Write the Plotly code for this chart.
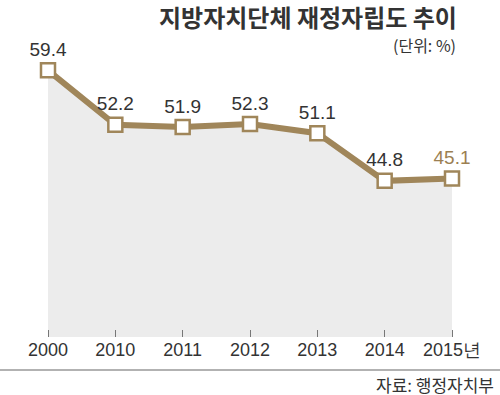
import plotly.graph_objects as go

years = ["2000", "2010", "2011", "2012", "2013", "2014", "2015년"]
values = [59.4, 52.2, 51.9, 52.3, 51.1, 44.8, 45.1]
labels = ["59.4", "52.2", "51.9", "52.3", "51.1", "44.8", "45.1"]
label_colors = ["#333333"] * 6 + ["#9c7f52"]

xs = list(range(len(years)))
W, H = 500, 395
TOP, BOTTOM = 40, 337  # plot area in px
PH = BOTTOM - TOP

def py(p):
    return (BOTTOM - p) / PH

LINE = "#a0865a"

fig = go.Figure()
fig.add_trace(go.Scatter(x=xs, y=values, mode="lines", fill="tozeroy",
                         fillcolor="#ececec", line=dict(width=0),
                         hoverinfo="skip", showlegend=False))
fig.add_trace(go.Scatter(x=xs, y=values, mode="lines+markers+text",
                         line=dict(color=LINE, width=6),
                         marker=dict(symbol="square", size=14, color="white",
                                     line=dict(color=LINE, width=2.5)),
                         text=labels, textposition="top center",
                         textfont=dict(family="Liberation Sans, Arial", size=19,
                                       color=label_colors),
                         showlegend=False, cliponaxis=False))

fig.update_layout(
    width=W, height=H,
    margin=dict(l=0, r=0, t=TOP, b=H - BOTTOM, pad=0),
    paper_bgcolor="white", plot_bgcolor="white",
    xaxis=dict(range=[-48 / 67.33, 6 + 48 / 67.33], tickmode="array",
               tickvals=xs, ticktext=years, ticks="inside", ticklen=7,
               tickwidth=1, tickcolor="#777777", showgrid=False,
               zeroline=False, showline=False, fixedrange=True,
               tickfont=dict(family="Liberation Sans, Arial", size=18, color="#333333")),
    yaxis=dict(range=[24.17, 63.41], showgrid=False, zeroline=False,
               showticklabels=False, showline=False, fixedrange=True),
    shapes=[dict(type="line", xref="paper", yref="paper", x0=0, x1=1,
                 y0=py(370), y1=py(370), line=dict(color="#999999", width=1.5))],
    annotations=[
        dict(text="<b>지방자치단체 재정자립도 추이</b>", xref="paper", yref="paper",
             x=459 / W, y=py(16), xanchor="right", yanchor="middle", showarrow=False,
             height=28, valign="middle",
             font=dict(family="Noto Sans CJK KR", size=24, color="#333333")),
        dict(text="(단위: %)", xref="paper", yref="paper",
             x=458 / W, y=py(45), xanchor="right", yanchor="middle", showarrow=False,
             height=20, valign="middle",
             font=dict(family="Noto Sans CJK KR", size=16, color="#333333")),
        dict(text="자료: 행정자치부", xref="paper", yref="paper",
             x=496 / W, y=py(384), xanchor="right", yanchor="middle", showarrow=False,
             height=20, valign="middle",
             font=dict(family="Noto Sans CJK KR", size=17, color="#333333")),
    ],
)

fig.write_html("out.html", config={"displayModeBar": False},
               post_script="document.body.style.margin='0';document.body.style.overflow='hidden';")
